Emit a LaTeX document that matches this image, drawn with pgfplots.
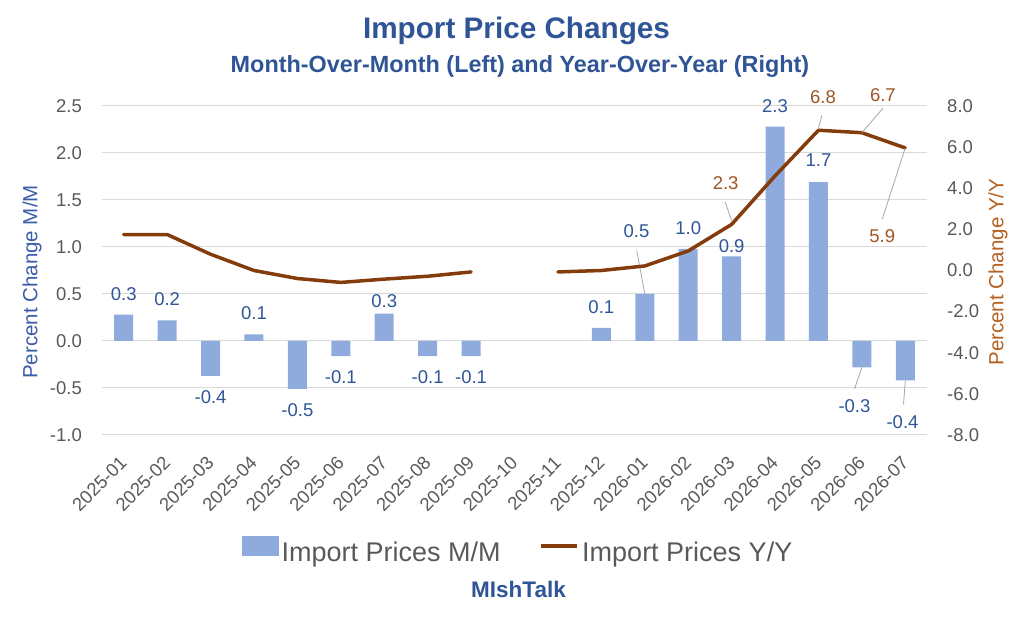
\documentclass[border=0pt]{standalone}
\usepackage{fontspec}
\setmainfont{Liberation Sans}
\usepackage{pgfplots}
\usepackage{pgfplotstable}
\pgfplotsset{compat=1.18}
\definecolor{barblue}{HTML}{8FAADC}
\definecolor{lineb}{HTML}{843C0C}
\definecolor{titleblue}{HTML}{2F5597}
\definecolor{labblue}{HTML}{2F5597}
\definecolor{axblue}{HTML}{3B5CA8}
\definecolor{labbrown}{HTML}{9E5427}
\definecolor{axbrown}{HTML}{B4601F}
\definecolor{tickgray}{HTML}{595959}
\definecolor{gridgray}{HTML}{D9D9D9}
\definecolor{leadgray}{HTML}{A6A6A6}

\pgfplotstableread{
x y lab dx dy
0 0.28 0.3 0 21
1 0.22 0.2 0 21
2 -0.37 -0.4 0 -21
3 0.07 0.1 0 21
4 -0.51 -0.5 0 -21
5 -0.16 -0.1 0 -21
6 0.29 0.3 0 13
7 -0.16 -0.1 0 -21
8 -0.16 -0.1 0 -21
11 0.14 0.1 0 21
12 0.50 0.5 -8.3 63.3
13 0.98 1.0 0 21
14 0.90 0.9 0 10.7
15 2.28 2.3 0 21
16 1.69 1.7 0 21.7
17 -0.28 -0.3 -7.4 -38.7
18 -0.42 -0.4 -2.8 -41.7
}\bartab

\pgfplotstableread{
x y
0 1.75
1 1.75
2 0.79
3 0.00
4 -0.39
5 -0.58
6 -0.42
7 -0.28
8 -0.07
9 nan
10 -0.07
11 0.00
12 0.22
13 0.95
14 2.24
15 4.60
16 6.82
17 6.70
18 5.96
}\linetab

\pgfplotstableread{
x y lab dx dy
14 2.24 2.3 -6 41
16 6.82 6.8 4.5 33.3
17 6.70 6.7 21 37.7
18 5.96 5.9 -23 -87.7
}\linelab

\begin{document}
\begin{tikzpicture}
\useasboundingbox (0,0) rectangle (1024pt,636pt);
\node[anchor=base, text=titleblue, font=\bfseries\fontsize{29.7}{32}\selectfont] at (516.5pt,597pt) {Import Price Changes};
\node[anchor=base, text=titleblue, font=\bfseries\fontsize{23.4}{26}\selectfont] at (520pt,563.3pt) {Month-Over-Month (Left) and Year-Over-Year (Right)};
\node[anchor=base, text=titleblue, font=\bfseries\fontsize{22.5}{25}\selectfont] at (518.5pt,38pt) {MIshTalk};

\begin{axis}[
  at={(102pt,201pt)}, anchor=south west,
  scale only axis, width=825pt, height=329pt,
  xmin=-0.5, xmax=18.5, ymin=-1, ymax=2.5,
  ytick={-1,-0.5,0,0.5,1,1.5,2,2.5},
  xtick={0,...,18},
  xticklabels={2025-01,2025-02,2025-03,2025-04,2025-05,2025-06,2025-07,2025-08,2025-09,2025-10,2025-11,2025-12,2026-01,2026-02,2026-03,2026-04,2026-05,2026-06,2026-07},
  axis line style={draw=none},
  major tick length=0pt,
  ymajorgrids, grid style={draw=gridgray, line width=1pt},
  clip=false,
  /pgf/number format/assume math mode=true,
  yticklabel style={/pgf/number format/.cd, fixed, fixed zerofill, precision=1, assume math mode=true, /tikz/.cd, anchor=east, inner sep=0pt, xshift=-20pt, font=\fontsize{18.5}{20}\selectfont, text=tickgray},
  xticklabel style={inner sep=0pt, xshift=-4.9pt, yshift=-20pt, rotate=45, anchor=north east, font=\fontsize{18.5}{20}\selectfont, text=tickgray},
  every axis y label/.style={at={(axis description cs:-0.0848,0.465)}, rotate=90, anchor=center, font=\fontsize{20.5}{22}\selectfont, text=axblue},
  ylabel={Percent Change M/M},
  legend style={at={(0.504,-0.3495)}, anchor=center, draw=none, fill=none,
    font=\fontsize{27}{30}\selectfont, text=tickgray,
    nodes={inner sep=1pt},
    /tikz/every odd column/.append style={column sep=2pt},
    /tikz/every even column/.append style={column sep=38pt}},
  legend columns=2,
]
\addplot[ybar, bar width=19pt, fill=barblue, draw=none, forget plot,
  nodes near coords, point meta=explicit symbolic,
  visualization depends on={\thisrow{dx} \as \dx},
  visualization depends on={\thisrow{dy} \as \dy},
  every node near coord/.append style={anchor=center, xshift=\dx pt, yshift=\dy pt, inner sep=0pt, font=\fontsize{18.5}{20}\selectfont, text=labblue}
] table[x=x, y=y, meta=lab] {\bartab};
\addlegendimage{legend image code/.code={\fill[barblue] (0pt,-3pt) rectangle (36pt,16pt);}}
\addlegendentry{Import Prices M/M}
\addlegendimage{legend image code/.code={\draw[line width=3.5pt, lineb] (0pt,6.5pt) -- (36pt,6.5pt);}}
\addlegendentry{Import Prices Y/Y}
\draw[leadgray, line width=0.8pt] (axis cs:12,0.50) -- ++(-8pt,43.3pt);
\draw[leadgray, line width=0.8pt] (axis cs:17,-0.28) -- ++(-7.4pt,-21.7pt);
\draw[leadgray, line width=0.8pt] (axis cs:18,-0.42) -- ++(-1.8pt,-24pt);
\end{axis}

\begin{axis}[
  at={(102pt,201pt)}, anchor=south west,
  scale only axis, width=825pt, height=329pt,
  xmin=-0.5, xmax=18.5, ymin=-8, ymax=8,
  ytick={-8,-6,-4,-2,0,2,4,6,8},
  axis x line=none, axis y line*=right,
  axis line style={draw=none},
  major tick length=0pt,
  clip=false,
  unbounded coords=jump,
  /pgf/number format/assume math mode=true,
  yticklabel style={/pgf/number format/.cd, fixed, fixed zerofill, precision=1, assume math mode=true, /tikz/.cd, anchor=west, inner sep=0pt, xshift=20pt, font=\fontsize{18.5}{20}\selectfont, text=tickgray},
  every axis y label/.style={at={(axis description cs:1.086,0.495)}, rotate=90, anchor=center, font=\fontsize{20.5}{22}\selectfont, text=axbrown},
  ylabel={Percent Change Y/Y},
]
\addplot[lineb, line width=3.5pt, line join=round, line cap=round, mark=none] table[x=x, y=y] {\linetab};
\addplot[draw=none, mark=none,
  nodes near coords, point meta=explicit symbolic,
  visualization depends on={\thisrow{dx} \as \dx},
  visualization depends on={\thisrow{dy} \as \dy},
  every node near coord/.append style={anchor=center, xshift=\dx pt, yshift=\dy pt, inner sep=0pt, font=\fontsize{18.5}{20}\selectfont, text=labbrown}
] table[x=x, y=y, meta=lab] {\linelab};
\draw[leadgray, line width=0.8pt] (axis cs:14,2.24) ++(0pt,4pt) -- ++(-6.5pt,18.5pt);
\draw[leadgray, line width=0.8pt] (axis cs:16,6.82) ++(0pt,2pt) -- ++(3.5pt,13pt);
\draw[leadgray, line width=0.8pt] (axis cs:17,6.70) -- ++(21pt,24.4pt);
\draw[leadgray, line width=0.8pt] (axis cs:18,5.96) -- ++(-23pt,-71pt);
\end{axis}
\end{tikzpicture}
\end{document}
